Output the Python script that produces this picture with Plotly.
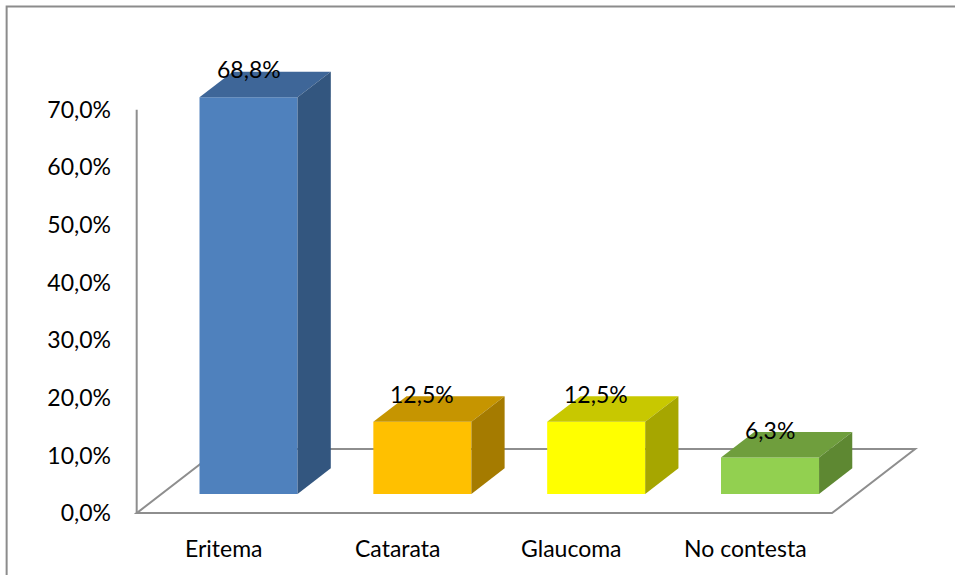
import plotly.graph_objects as go

# Data
categories = ["Eritema", "Catarata", "Glaucoma", "No contesta"]
values = [68.8, 12.5, 12.5, 6.3]
tick_values = [0, 10, 20, 30, 40, 50, 60, 70]
tick_labels = ["0,0%", "10,0%", "20,0%", "30,0%", "40,0%", "50,0%", "60,0%", "70,0%"]

# Face colours (front, top, side) per bar
front_colors = ["#4F81BD", "#FFC000", "#FFFF00", "#92D050"]
top_colors = ["#3E6698", "#C69500", "#C8C800", "#6F9E3D"]
side_colors = ["#33567F", "#A57B00", "#A6A600", "#5E8832"]

FONT = "Lato, Calibri, Carlito, sans-serif"
FSIZE = 23

# Oblique projection of the floor depth (in axis units)
floor_dx, floor_dy = 0.478, 11.12
front_depth, back_depth = 0.30, 0.70
bar_width = 0.564

W, H = 955, 575
px_x = 173.75          # pixels per category unit
px_y = 5.757           # pixels per percent
x_range = [-0.05, 4.65]
y_range = [-0.5, 80.0]
zero_x_px, zero_y_px = 137.0, 513.0
m_l = zero_x_px + x_range[0] * px_x
m_r = W - (zero_x_px + x_range[1] * px_x)
m_b = H - (zero_y_px - y_range[0] * px_y)
m_t = H - m_b - (y_range[1] - y_range[0]) * px_y
pw = W - m_l - m_r
ph = H - m_t - m_b

fig = go.Figure()

n = len(categories)
fdx, fdy = front_depth * floor_dx, front_depth * floor_dy
bdx, bdy = back_depth * floor_dx, back_depth * floor_dy

for i, (cat, v) in enumerate(zip(categories, values)):
    xc = i + 0.5 + fdx
    x0, x1 = xc - bar_width / 2, xc + bar_width / 2
    ddx, ddy = bdx - fdx, bdy - fdy
    # front face
    fig.add_trace(go.Bar(
        x=[xc], y=[v], base=[fdy], width=[bar_width],
        marker=dict(color=front_colors[i], line=dict(width=0)),
        hoverinfo="skip", showlegend=False,
    ))
    # top face
    fig.add_trace(go.Scatter(
        x=[x0, x1, x1 + ddx, x0 + ddx, x0],
        y=[fdy + v, fdy + v, bdy + v, bdy + v, fdy + v],
        fill="toself", fillcolor=top_colors[i], mode="lines",
        line=dict(width=0, color=top_colors[i]),
        hoverinfo="skip", showlegend=False,
    ))
    # side face
    fig.add_trace(go.Scatter(
        x=[x1, x1 + ddx, x1 + ddx, x1, x1],
        y=[fdy, bdy, bdy + v, fdy + v, fdy],
        fill="toself", fillcolor=side_colors[i], mode="lines",
        line=dict(width=0, color=side_colors[i]),
        hoverinfo="skip", showlegend=False,
    ))
    # value label
    fig.add_annotation(
        x=xc, y=bdy + v + 0.4, text=f"{v:.1f}%".replace(".", ","),
        showarrow=False, xanchor="center", yanchor="middle",
        font=dict(family=FONT, size=FSIZE, color="#000000"),
    )
    # category label, below the floor
    fig.add_annotation(
        x=i + 0.5, xref="x", yref="paper",
        y=(H - m_b - 548) / ph, text=cat, showarrow=False,
        xanchor="center", yanchor="middle",
        font=dict(family=FONT, size=FSIZE, color="#000000"),
    )

# Floor outline and vertical axis line
grey = "#8E8E8E"
floor_path = (f"M 0,0 L {n},0 L {n + floor_dx},{floor_dy} "
              f"L {floor_dx},{floor_dy} Z")
fig.add_shape(type="path", path=floor_path, xref="x", yref="y",
              line=dict(color=grey, width=2), layer="below")
fig.add_shape(type="line", x0=0, x1=0, y0=0, y1=tick_values[-1],
              xref="x", yref="y", line=dict(color=grey, width=2),
              layer="below")

# Outer frame
fig.add_shape(type="rect", xref="paper", yref="paper",
              x0=(7 - m_l) / pw, x1=(W + 5 - m_l) / pw,
              y0=-(m_b + 5) / ph, y1=1 + (m_t - 7) / ph,
              line=dict(color="#8C8C8C", width=2))

fig.update_layout(
    width=W, height=H,
    margin=dict(l=m_l, r=m_r, t=m_t, b=m_b, pad=0),
    paper_bgcolor="white", plot_bgcolor="white",
    barmode="overlay",
    xaxis=dict(range=x_range, showgrid=False, zeroline=False,
               showline=False, showticklabels=False, fixedrange=True),
    yaxis=dict(range=y_range, showgrid=False, zeroline=False,
               showline=False, tickmode="array", tickvals=tick_values,
               ticktext=tick_labels, ticks="", ticklabelstandoff=16,
               tickfont=dict(family=FONT, size=FSIZE, color="#000000"),
               fixedrange=True),
    showlegend=False,
)

fig.write_html("out.html")
